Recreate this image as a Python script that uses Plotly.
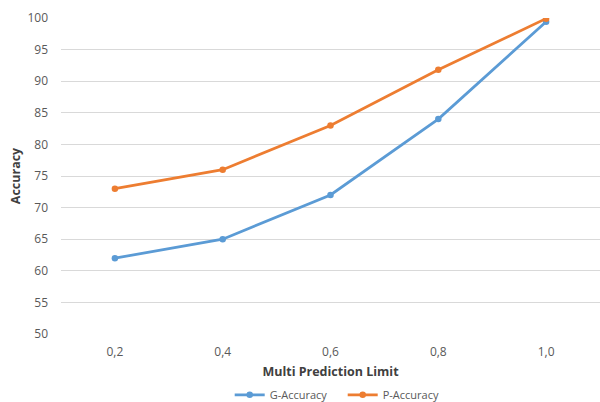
import plotly.graph_objects as go

# Accuracy (%) for each multi-prediction limit
limits = ["0,2", "0,4", "0,6", "0,8", "1,0"]
g_accuracy = [62.0, 65.0, 72.0, 84.0, 99.4]
p_accuracy = [73.0, 76.0, 83.0, 91.8, 99.9]

BLUE = "#5B9BD5"
ORANGE = "#ED7D31"
FONT = "Open Sans, Liberation Sans, sans-serif"

fig = go.Figure()
fig.add_trace(go.Scatter(
    x=limits, y=g_accuracy, name="G-Accuracy", mode="lines+markers",
    line=dict(color=BLUE, width=2.75), marker=dict(color=BLUE, size=6.5),
))
fig.add_trace(go.Scatter(
    x=limits, y=p_accuracy, name="P-Accuracy", mode="lines+markers",
    line=dict(color=ORANGE, width=2.75), marker=dict(color=ORANGE, size=6.5),
))

fig.update_layout(
    width=600, height=402,
    margin=dict(l=61, r=0, t=18, b=68, autoexpand=False),
    paper_bgcolor="white", plot_bgcolor="white",
    font=dict(family=FONT, size=12, color="#595959"),
    showlegend=True,
    legend=dict(
        orientation="h", x=0.313, xanchor="left",
        yref="container", y=0.018, yanchor="middle",
        font=dict(size=11, color="#595959"), itemwidth=30,
        entrywidth=68, entrywidthmode="pixels",
        bgcolor="rgba(0,0,0,0)",
    ),
    xaxis=dict(
        type="category", range=[-0.5, 4.5], automargin=False,
        showgrid=False, showline=False, zeroline=False,
        ticks="", ticklabelstandoff=9,
        tickfont=dict(size=12, color="#595959"),
        title=dict(text="<b>Multi Prediction Limit</b>", standoff=9,
                   font=dict(size=12.5, color="#404040")),
    ),
    yaxis=dict(
        range=[50, 100], dtick=5, tick0=50, automargin=False,
        showgrid=True, gridcolor="#D9D9D9", gridwidth=1,
        showline=False, zeroline=False,
        ticks="", ticklabelstandoff=12,
        tickfont=dict(size=12, color="#595959"),
        title=dict(text="<b>Accuracy</b>", standoff=4,
                   font=dict(size=12.5, color="#404040")),
    ),
)

fig.write_html("out.html")
